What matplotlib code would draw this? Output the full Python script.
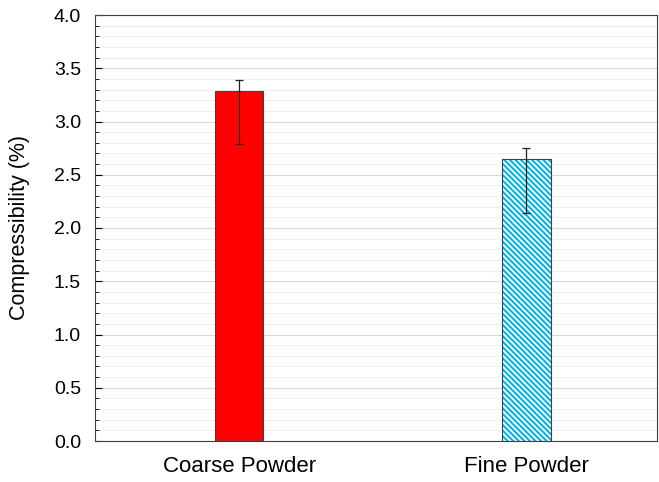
import numpy as np
import matplotlib as mpl
mpl.use('Agg')
from matplotlib import pyplot as plt
from matplotlib.ticker import MultipleLocator, FormatStrFormatter

plt.rcParams['font.family'] = ['Liberation Sans', 'DejaVu Sans']
plt.rcParams['hatch.linewidth'] = 1.5
plt.rcParams['hatch.color'] = '#00b4e6'

categories = ['Coarse Powder', 'Fine Powder']
values = [3.29, 2.65]
err_low = [0.50, 0.51]
err_high = [0.10, 0.10]

fig = plt.figure(figsize=(6.59, 4.82), dpi=100)
ax = fig.add_axes([95/659, 1-441/482, 562/659, 426/482])

x = np.arange(len(categories))
ax.bar(x[0], values[0], width=0.17, color='#ff0000', edgecolor='#404040', linewidth=0.8, zorder=3)
ax.bar(x[1], values[1], width=0.17, color='white', edgecolor='#00b4e6', hatch='\\' * 6, linewidth=0, zorder=3)
ax.bar(x[1], values[1], width=0.17, fill=False, edgecolor='#404040', linewidth=0.8, zorder=4)
ax.errorbar(x, values, yerr=[err_low, err_high], fmt='none', ecolor='#202020',
            elinewidth=0.9, capsize=3, capthick=0.9, zorder=5)

ax.set_xticks(x)
ax.set_xticklabels(categories, fontsize=16)
ax.yaxis.set_major_locator(MultipleLocator(0.5))
ax.yaxis.set_minor_locator(MultipleLocator(0.1))
ax.yaxis.set_major_formatter(FormatStrFormatter('%.1f'))
ax.set_xlim(-0.502, 1.456)
ax.set_ylim(0, 4.0)
ax.tick_params(axis='x', length=0, pad=11)
ax.tick_params(axis='y', which='major', direction='in', length=5, width=0.8, pad=10, labelsize=14)
ax.tick_params(axis='y', which='minor', direction='in', length=3, width=0.6)
ax.grid(axis='y', which='major', color='#d9d9d9', linewidth=0.8, zorder=0)
ax.grid(axis='y', which='minor', color='#ececec', linewidth=0.6, zorder=0)
ax.set_axisbelow(True)
for s in ax.spines.values():
    s.set_color('#404040')
    s.set_linewidth(0.8)
ax.set_ylabel('Compressibility (%)', fontsize=15.5, labelpad=17)

plt.savefig('out.png', dpi=100)
